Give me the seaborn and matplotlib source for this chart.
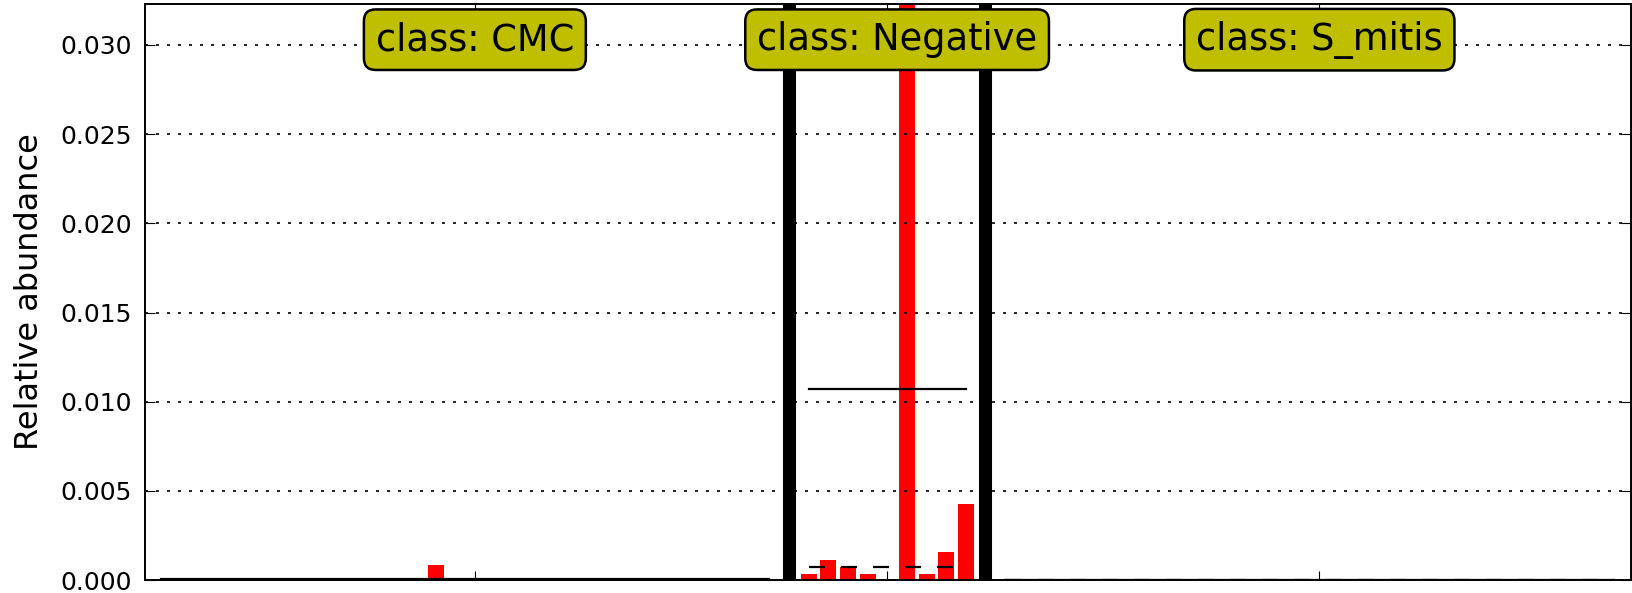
import numpy as np
import pandas as pd
import seaborn as sns
import matplotlib.pyplot as plt

# Class names and per-sample relative abundances
classes = ['CMC', 'Negative', 'S_mitis']

cmc = [0.0, 0.0, 0.0, 0.0, 0.0, 0.0, 0.0, 0.0,
       0.0, 0.0, 0.0, 0.0, 0.0, 0.0001, 0.00083, 0.0,
       0.0, 0.0, 0.0, 0.0, 0.0, 0.0, 0.0, 0.0,
       0.0, 0.0, 0.0, 0.0, 0.0, 0.0, 0.0, 0.0]
negative = [0.00036, 0.0011, 0.00071, 0.00032, 0.00006,
            0.0878, 0.00036, 0.00155, 0.00424]
s_mitis = [0.0, 0.0, 0.0, 0.0, 0.0, 0.00003, 0.0, 0.0,
           0.0, 0.0, 0.0, 0.0, 0.0, 0.0, 0.0, 0.0,
           0.0, 0.0, 0.0, 0.0, 0.0, 0.0, 0.0, 0.0,
           0.0, 0.0, 0.0, 0.0, 0.0, 0.0, 0.0, 0.0]
values = [cmc, negative, s_mitis]

ytick_vals = [0.0, 0.005, 0.010, 0.015, 0.020, 0.025, 0.030]
ytick_labels = ['0.000', '0.005', '0.010', '0.015', '0.020', '0.025', '0.030']

# Lay samples out one slot each, leaving one empty slot between classes
rows = []
groups = []
pos = 0
for name, vals in zip(classes, values):
    xs = list(range(pos, pos + len(vals)))
    groups.append((name, xs, vals))
    rows += [(x, v) for x, v in zip(xs, vals)]
    pos += len(vals) + 1
df = pd.DataFrame(rows, columns=['slot', 'abundance'])

fig, ax = plt.subplots(figsize=(16.33, 5.93), dpi=100)
fig.subplots_adjust(left=0.0885, right=0.9988, top=0.9933, bottom=0.0219)

sns.barplot(data=df, x='slot', y='abundance', native_scale=True, width=0.82,
            color='red', saturation=1, errorbar=None, linewidth=0, ax=ax)

xticks = []
for i, (name, xs, vals) in enumerate(groups):
    # mean (solid) and median (dashed) lines across the class
    ax.plot([xs[0], xs[-1]], [np.mean(vals)] * 2, color='k', lw=1.6, zorder=2)
    ax.plot([xs[0], xs[-1]], [np.median(vals)] * 2, color='k', lw=1.6,
            linestyle=(0, (7.2, 7.2)), zorder=2)
    if i < len(groups) - 1:
        ax.axvline(xs[-1] + 1, color='k', lw=9.4, zorder=2)
    xticks.append(xs[0] + len(xs) // 2)
    ax.text(xs[0] + len(xs) / 2.0, 0.938, 'class: ' + name,
            transform=ax.get_xaxis_transform(), ha='center', va='center',
            fontsize=26.5, zorder=4,
            bbox=dict(boxstyle='round,pad=0.32', fc=(0.75, 0.75, 0),
                      ec='k', lw=1.8))

ax.set_xlim(-0.82, 74.87)
ax.set_ylim(0, 0.0323)
ax.set_xticks(xticks)
ax.set_xticklabels([])
ax.set_yticks(ytick_vals)
ax.set_yticklabels(ytick_labels)
ax.set_xlabel('')
ax.set_ylabel('Relative abundance', fontsize=23)
ax.yaxis.set_label_coords(-0.067, 0.5)

ax.set_axisbelow(False)
ax.yaxis.grid(True, color='k', lw=1.2, linestyle=(0, (1.8, 4.8)))
ax.xaxis.grid(False)

ax.tick_params(axis='both', direction='in', top=True, right=True,
               width=0.8, labelsize=18, pad=9)
ax.tick_params(axis='x', length=6.5)
ax.tick_params(axis='y', length=7.5)
for sp in ax.spines.values():
    sp.set_linewidth(1.4)

fig.savefig('out.png', dpi=100)
